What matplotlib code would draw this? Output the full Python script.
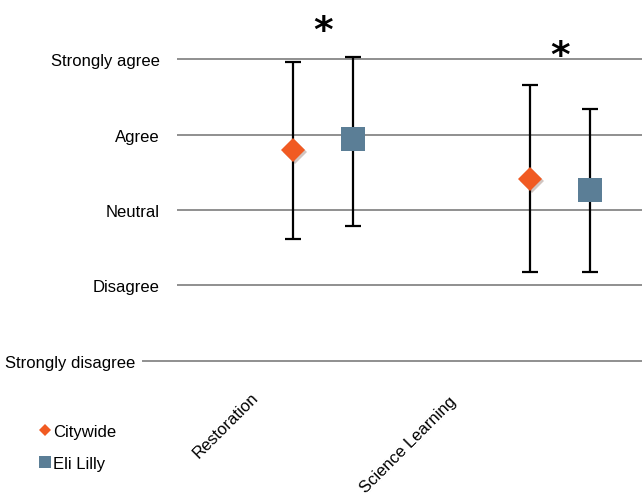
import matplotlib
matplotlib.use("Agg")
import matplotlib.pyplot as plt
from matplotlib.transforms import ScaledTranslation
import matplotlib.patheffects as pe

plt.rcParams['font.family'] = ['Liberation Sans', 'DejaVu Sans']

# survey answers, 1 = strongly disagree ... 5 = strongly agree
categories = ['Restoration', 'Science Learning']
scale_labels = ['Strongly disagree', 'Disagree', 'Neutral', 'Agree', 'Strongly agree']
scale_values = [1, 2, 3, 4, 5]

citywide_mean = [3.80, 3.41]
citywide_low = [2.62, 2.18]
citywide_high = [4.97, 4.66]

lilly_mean = [3.94, 3.26]
lilly_low = [2.78, 2.17]
lilly_high = [5.03, 4.34]

sig_marks = ['*', '*']
sig_y = [5.38, 5.04]

orange = '#F15A22'
slate = '#5B7E96'
fs = 12

fig = plt.figure(figsize=(6.42, 5.02), dpi=100)
ax = fig.add_axes([177 / 642, 0.2048, 1 - 177 / 642, 1 - 0.2048])
ax.set_xlim(-0.616, 1.346)
ax.set_ylim(0.5, 5.8)

# gridlines
for v in scale_values[1:]:
    ax.axhline(v, color='#8f8f8f', lw=1.4, zorder=0)
ax.axhline(1, xmin=-34 / 465, xmax=1, color='#8f8f8f', lw=1.4, zorder=0, clip_on=False)

xs = list(range(len(categories)))
shift = 0.127
x_city = [x - shift for x in xs]
x_lilly = [x + shift for x in xs]

def err(mean, low, high):
    return [[m - l for m, l in zip(mean, low)], [h - m for h, m in zip(high, mean)]]

ax.errorbar(x_city, citywide_mean, yerr=err(citywide_mean, citywide_low, citywide_high),
            fmt='none', ecolor='black', elinewidth=1.6, capsize=5.8, capthick=1.6, zorder=2)
ax.errorbar(x_lilly, lilly_mean, yerr=err(lilly_mean, lilly_low, lilly_high),
            fmt='none', ecolor='black', elinewidth=1.6, capsize=5.8, capthick=1.6, zorder=2)

ax.plot(x_city, citywide_mean, 'D', color=orange, ms=12.2, mew=0, zorder=3,
        path_effects=[pe.SimplePatchShadow(offset=(1.5, -1.5), alpha=0.25), pe.Normal()])
ax.plot(x_lilly, lilly_mean, 's', color=slate, ms=17, mew=0, zorder=3)

for x, y, s in zip(xs, sig_y, sig_marks):
    ax.text(x, y, s, ha='center', va='center', fontsize=27, fontweight='bold',
            family='DejaVu Sans', clip_on=False)

# y axis labels
ax.set_yticks(scale_values)
ax.set_yticklabels(scale_labels, fontsize=fs)
ax.tick_params(axis='y', length=0, pad=12.5)
ylbls = ax.get_yticklabels()
ylbls[0].set_transform(ylbls[0].get_transform() + ScaledTranslation(-24 / 100, 0, fig.dpi_scale_trans))

# x labels, rotated
ax.set_xticks(xs)
ax.set_xticklabels(categories, fontsize=fs, rotation=45, ha='right', va='center',
                   rotation_mode='anchor')
ax.tick_params(axis='x', length=0, pad=0)
for lbl, dx, dy in zip(ax.get_xticklabels(), [-67, -106], [4, 0]):
    lbl.set_transform(lbl.get_transform() + ScaledTranslation(dx / 100, dy / 100, fig.dpi_scale_trans))

for s in ax.spines.values():
    s.set_visible(False)

h1, = ax.plot([], [], 'D', color=orange, ms=6.5, mew=0)
h2, = ax.plot([], [], 's', color=slate, ms=9, mew=0)
fig.legend([h1, h2], ['Citywide', 'Eli Lilly'], loc='lower left',
           bbox_to_anchor=(32 / 642, 22 / 502), frameon=False, fontsize=fs,
           handlelength=0.6, handletextpad=0.15, labelspacing=1.0, borderpad=0)

fig.savefig('out.png', dpi=100)
